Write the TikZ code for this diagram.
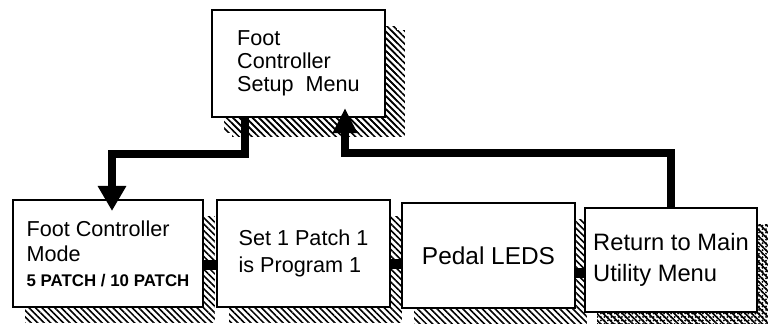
\documentclass[tikz,border=0pt]{standalone}
\usepackage{fontspec}
\setmainfont{Liberation Sans}
\usetikzlibrary{
  arrows.meta,
  positioning,
  shadows,
  patterns,
  patterns.meta,
}

\begin{document}
\begin{tikzpicture}[
  x=0.02cm, y=-0.02cm,
  every node/.style={align=left},
  menubox/.style={draw=black, line width=1.2pt, fill=white, inner sep=0pt,
    general shadow={shadow xshift=0.24cm, shadow yshift=-0.32cm, draw=none,
      pattern={Lines[angle=-45, distance=2.6pt, line width=0.9pt]}}},
  topbox/.style={menubox, general shadow={shadow xshift=0.4cm,
      shadow yshift=-0.4cm, draw=none,
      pattern={Lines[angle=-45, distance=2.6pt, line width=0.9pt]}}},
  lastbox/.style={menubox, general shadow={shadow xshift=0.24cm,
      shadow yshift=-0.32cm, draw=none,
      pattern={Dots[distance=2pt, radius=0.6pt]}}},
  flow/.style={line width=0.16cm, -{Triangle[width=0.54cm, length=0.5cm]}},
  backflow/.style={line width=0.16cm, {Triangle[width=0.46cm, length=0.5cm]}-},
  link/.style={line width=0.2cm},
]
\useasboundingbox (0,0) rectangle (768,324);

%% setup menu on top
\node[topbox, minimum width=3.46cm, minimum height=2.14cm,
  font=\fontsize{12.3}{13.2}\selectfont] (setup) at (298.5,63.5)
  {Foot\\Controller\\Setup~~Menu};

%% row of menu pages
\node[menubox, minimum width=3.8cm, minimum height=2.14cm,
  font=\fontsize{12.3}{14.2}\selectfont] (mode) at (108,253.5)
  {Foot Controller\\Mode\\{\fontsize{9.6}{10}\selectfont\bfseries 5 PATCH / 10 PATCH}};
\node[menubox, minimum width=3.46cm, minimum height=2.14cm,
  font=\fontsize{12.3}{15.4}\selectfont] (patch) at (303.5,253.5)
  {Set 1 Patch 1\\is Program 1};
\node[menubox, minimum width=3.46cm, minimum height=2.1cm,
  font=\fontsize{13.9}{15}\selectfont] (leds) at (488.5,255.5)
  {Pedal LEDS};
\node[lastbox, minimum width=3.44cm, minimum height=2.08cm,
  font=\fontsize{13.5}{17.6}\selectfont] (ret) at (671,260)
  {Return to Main\\Utility Menu};

%% links between the pages
\draw[link] ([yshift=-0.23cm]mode.east) -- ([yshift=-0.23cm]mode.east -| patch.west);
\draw[link] ([yshift=-0.21cm]patch.east) -- ([yshift=-0.21cm]patch.east -| leds.west);
\draw[link] ([yshift=-0.35cm]leds.east) -- ([yshift=-0.35cm]leds.east -| ret.west);

%% enter and return
\draw[flow] ([xshift=-1.07cm]setup.south) -- ++(0,36)
  -| ([xshift=0.08cm, yshift=-0.24cm]mode.north);
\draw[backflow] ([xshift=0.93cm, yshift=0.2cm]setup.south) -- ++(0,45)
  -| (ret.north);

\end{tikzpicture}
\end{document}
